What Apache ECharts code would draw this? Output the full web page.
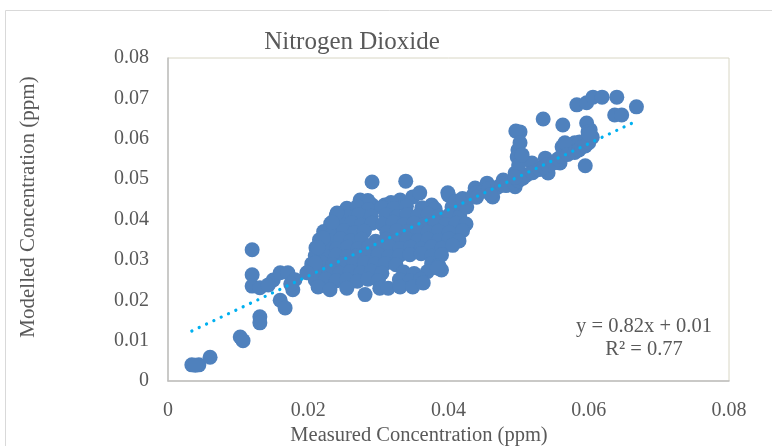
<!DOCTYPE html>
<html>
<head>
<meta charset="utf-8">
<script src="https://cdn.jsdelivr.net/npm/echarts@6/dist/echarts.min.js"></script>
<style>
html,body{margin:0;padding:0;background:#fff;}
#chart{width:772px;height:446px;}
</style>
</head>
<body>
<div id="chart"></div>
<script>
const chartTitle = 'Nitrogen Dioxide';
const xAxisTitle = 'Measured Concentration (ppm)';
const yAxisTitle = 'Modelled Concentration (ppm)';
const xTickLabels = ['0','0.02','0.04','0.06','0.08'];
const yTickLabels = ['0','0.01','0.02','0.03','0.04','0.05','0.06','0.07','0.08'];
const trendSlope = 0.82;
const trendIntercept = 0.0096;
const equationText = 'y = 0.82x + 0.01';
const r2Text = 'R\u00b2 = 0.77';

// [measured, modelled]
const lowPoints = [
  [0.0034,0.0040],[0.0044,0.0040],[0.0039,0.0039],[0.0060,0.0059],
  [0.0103,0.0109],[0.0107,0.0100],[0.0131,0.0159],[0.0131,0.0144],
  [0.0160,0.0200],[0.0167,0.0181],[0.0178,0.0226],[0.0120,0.0325],
  [0.0120,0.0263],[0.0120,0.0235],[0.0131,0.0231],[0.0150,0.0250],
  [0.0160,0.0268],[0.0171,0.0268],[0.0181,0.0251],[0.0143,0.0238],
  [0.0175,0.0240],[0.0202,0.0268]
];
const clusterPoints = [
  [0.0291,0.0493],[0.0339,0.0495],
  [0.0274,0.0448],[0.0291,0.0436],[0.0309,0.0436],[0.0331,0.0448],[0.0349,0.0456],
  [0.0359,0.0466],[0.0376,0.0436],[0.0399,0.0466],[0.0285,0.0447],[0.0318,0.0442],
  [0.0255,0.0428],[0.0270,0.0432],[0.0286,0.0425],[0.0305,0.0430],[0.0322,0.0427],
  [0.0340,0.0433],[0.0362,0.0429],[0.0381,0.0426],[0.0405,0.0431],[0.0422,0.0436],
  [0.0240,0.0410],[0.0256,0.0407],[0.0272,0.0412],[0.0290,0.0408],[0.0311,0.0411],
  [0.0326,0.0406],[0.0341,0.0412],[0.0356,0.0409],[0.0371,0.0413],[0.0386,0.0408],
  [0.0401,0.0411],[0.0416,0.0407],
  [0.0232,0.0390],[0.0246,0.0388],[0.0262,0.0392],[0.0276,0.0386],[0.0291,0.0391],
  [0.0306,0.0388],[0.0321,0.0393],[0.0336,0.0387],[0.0351,0.0391],[0.0366,0.0388],
  [0.0381,0.0392],[0.0396,0.0387],[0.0411,0.0391],[0.0425,0.0389],
  [0.0222,0.0370],[0.0236,0.0368],[0.0251,0.0372],[0.0266,0.0367],[0.0280,0.0371],
  [0.0312,0.0368],[0.0326,0.0372],[0.0341,0.0369],[0.0356,0.0373],[0.0371,0.0368],
  [0.0386,0.0371],[0.0401,0.0367],[0.0420,0.0372],
  [0.0216,0.0350],[0.0231,0.0348],[0.0246,0.0352],[0.0261,0.0347],[0.0276,0.0351],
  [0.0296,0.0346],[0.0311,0.0351],[0.0326,0.0348],[0.0341,0.0352],[0.0356,0.0347],
  [0.0371,0.0351],[0.0386,0.0348],[0.0401,0.0352],[0.0415,0.0347],
  [0.0211,0.0330],[0.0226,0.0332],[0.0241,0.0328],[0.0256,0.0331],[0.0271,0.0327],
  [0.0286,0.0332],[0.0301,0.0329],[0.0316,0.0333],[0.0331,0.0328],[0.0346,0.0331],
  [0.0361,0.0327],[0.0376,0.0332],[0.0391,0.0329],[0.0406,0.0336],
  [0.0210,0.0310],[0.0225,0.0308],[0.0240,0.0312],[0.0255,0.0307],[0.0270,0.0311],
  [0.0285,0.0309],[0.0300,0.0313],[0.0315,0.0308],[0.0330,0.0311],[0.0345,0.0313],
  [0.0361,0.0315],[0.0376,0.0309],[0.0390,0.0312],
  [0.0205,0.0290],[0.0220,0.0292],[0.0235,0.0288],[0.0250,0.0291],[0.0265,0.0287],
  [0.0280,0.0292],[0.0295,0.0289],[0.0310,0.0291],[0.0325,0.0288],[0.0376,0.0291],
  [0.0386,0.0286],
  [0.0200,0.0270],[0.0215,0.0268],[0.0230,0.0272],[0.0245,0.0267],[0.0260,0.0271],
  [0.0275,0.0268],[0.0290,0.0272],[0.0305,0.0267],[0.0336,0.0270],[0.0351,0.0266],
  [0.0370,0.0271],[0.0390,0.0275],
  [0.0210,0.0250],[0.0225,0.0252],[0.0240,0.0248],[0.0255,0.0251],[0.0270,0.0247],
  [0.0285,0.0252],[0.0300,0.0249],[0.0330,0.0251],[0.0345,0.0248],[0.0360,0.0252],
  [0.0214,0.0233],[0.0231,0.0226],[0.0255,0.0230],[0.0281,0.0214],[0.0302,0.0230],
  [0.0314,0.0230],[0.0331,0.0233],[0.0349,0.0233],[0.0364,0.0243],
  [0.0384,0.0280],[0.0416,0.0441],
  [0.0241,0.0416],[0.0234,0.0393],[0.0221,0.0354],[0.0214,0.0330],[0.0210,0.0292],
  [0.0198,0.0268]
];
const upperPoints = [
  [0.0426,0.0431],[0.0438,0.0478],[0.0455,0.0490],[0.0463,0.0456],[0.0478,0.0498],
  [0.0495,0.0481],[0.0495,0.0515],[0.0499,0.0572],[0.0498,0.0555],[0.0502,0.0617],
  [0.0496,0.0619],[0.0519,0.0540],[0.0538,0.0552],[0.0542,0.0515],[0.0559,0.0540],
  [0.0562,0.0580],[0.0580,0.0590],[0.0597,0.0597],[0.0602,0.0622],[0.0597,0.0639],
  [0.0563,0.0634],[0.0535,0.0649],[0.0595,0.0533],[0.0583,0.0684],[0.0597,0.0689],
  [0.0606,0.0703],[0.0619,0.0703],[0.0640,0.0703],[0.0637,0.0659],[0.0647,0.0659],
  [0.0668,0.0679],[0.0566,0.0590],[0.0587,0.0592],[0.0599,0.0617],
  [0.0400,0.0460],[0.0410,0.0445],[0.0420,0.0452],[0.0435,0.0460],[0.0440,0.0466],
  [0.0450,0.0470],[0.0457,0.0476],[0.0470,0.0480],[0.0476,0.0488],[0.0482,0.0484],
  [0.0494,0.0490],[0.0500,0.0496],[0.0506,0.0502],[0.0511,0.0510],[0.0520,0.0516],
  [0.0530,0.0524],[0.0536,0.0530],[0.0541,0.0536],[0.0550,0.0540],[0.0556,0.0550],
  [0.0561,0.0556],[0.0570,0.0561],[0.0580,0.0566],[0.0586,0.0572],[0.0590,0.0580],
  [0.0595,0.0582],[0.0600,0.0590],[0.0605,0.0604],[0.0600,0.0611],
  [0.0500,0.0535],[0.0502,0.0590],[0.0505,0.0560],[0.0495,0.0505],[0.0440,0.0455],[0.0460,0.0462]
];

const allPoints = lowPoints.concat(clusterPoints, upperPoints);
const xs = allPoints.map(p => p[0]);
const xMin = Math.min.apply(null, xs);
const xMax = Math.max.apply(null, xs);
const trendData = [[xMin, trendSlope * xMin + trendIntercept], [xMax, trendSlope * xMax + trendIntercept]];

const serif = '"Liberation Serif","Times New Roman",serif';
const textColor = '#595959';

const chart = echarts.init(document.getElementById('chart'));
chart.setOption({
  animation: false,
  backgroundColor: '#fff',
  grid: {left: 168, top: 58, width: 561, height: 323, show: true, borderColor: '#d8d6c4', borderWidth: 1},
  xAxis: {
    type: 'value', min: 0, max: 0.08, interval: 0.02,
    axisLine: {show: true, onZero: false, lineStyle: {color: '#bfbfbf', width: 1.5}},
    axisTick: {show: false}, splitLine: {show: false},
    axisLabel: {margin: 20, color: textColor, fontFamily: serif, fontSize: 20,
      formatter: v => xTickLabels[Math.round(v / 0.02)]}
  },
  yAxis: {
    type: 'value', min: 0, max: 0.08, interval: 0.01,
    axisLine: {show: true, onZero: false, lineStyle: {color: '#bfbfbf', width: 1.5}},
    axisTick: {show: false}, splitLine: {show: false},
    axisLabel: {margin: 19, color: textColor, fontFamily: serif, fontSize: 20,
      formatter: v => yTickLabels[Math.round(v / 0.01)]}
  },
  graphic: [
    {type: 'rect', silent: true, z: -1, shape: {x: 5.5, y: 10.5, width: 900, height: 600},
      style: {fill: 'none', stroke: '#d9d9d9', lineWidth: 1}},
    {type: 'text', x: 352, y: 42, style: {text: chartTitle, fill: textColor, font: '25px ' + serif, textAlign: 'center', textVerticalAlign: 'middle'}},
    {type: 'text', x: 419, y: 436, style: {text: xAxisTitle, fill: textColor, font: '20.5px ' + serif, textAlign: 'center', textVerticalAlign: 'middle'}},
    {type: 'text', x: 28, y: 207, rotation: Math.PI / 2, style: {text: yAxisTitle, fill: textColor, font: '21px ' + serif, textAlign: 'center', textVerticalAlign: 'middle'}},
    {type: 'text', x: 644, y: 327, z: 10, style: {text: equationText, fill: textColor, font: '20.5px ' + serif, textAlign: 'center', textVerticalAlign: 'middle'}},
    {type: 'text', x: 644, y: 350, z: 10, style: {text: r2Text, fill: textColor, font: '20.5px ' + serif, textAlign: 'center', textVerticalAlign: 'middle'}}
  ],
  series: [
    {type: 'scatter', data: allPoints, symbol: 'circle', symbolSize: 15,
      itemStyle: {color: '#4f81bd', opacity: 1}, z: 2},
    {type: 'line', data: trendData, symbol: 'none', z: 3,
      lineStyle: {color: '#00b0f0', width: 3.2, type: [0.1, 8], cap: 'round'}}
  ]
});
</script>
</body>
</html>
